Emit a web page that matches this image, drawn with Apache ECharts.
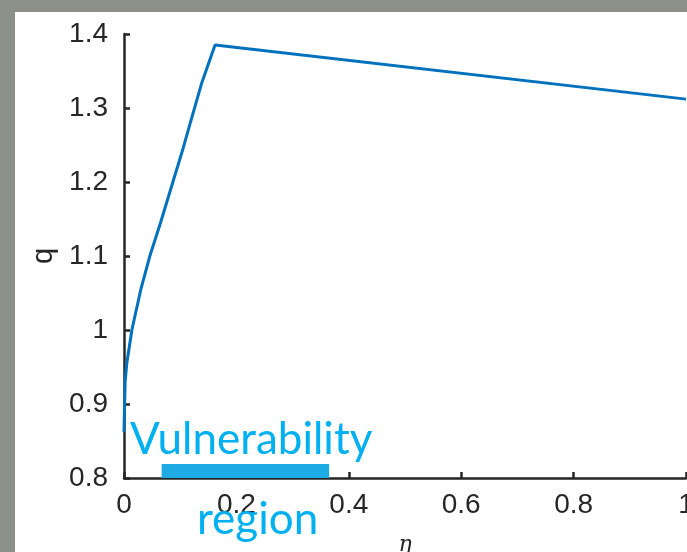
<!DOCTYPE html>
<html>
<head>
<meta charset="utf-8">
<script src="https://cdn.jsdelivr.net/npm/echarts@6/dist/echarts.min.js"></script>
<style>html,body{margin:0;padding:0;background:#8b9189;}#c{width:687px;height:552px;}</style>
</head>
<body>
<div id="c"></div>
<script>
// data
const eta = [0, 0.002, 0.005, 0.014, 0.03, 0.046, 0.065, 0.087, 0.105, 0.121, 0.138, 0.162, 1.0];
const qVals = [0.862, 0.93, 0.955, 1.0, 1.055, 1.1, 1.145, 1.2, 1.245, 1.288, 1.333, 1.385, 1.312];
const vulnRange = [0.067, 0.365];
const vulnQ = [0.798, 0.819];
const xTicks = [0, 0.2, 0.4, 0.6, 0.8, 1];
const yTicks = [0.8, 0.9, 1, 1.1, 1.2, 1.3, 1.4];
const labels = { y: 'q', x: 'η', vuln1: 'Vulnerability', vuln2: 'region' };

const chart = echarts.init(document.getElementById('c'), null, { renderer: 'canvas' });
const axisColor = '#262626';
const option = {
  backgroundColor: '#8b9189',
  animation: false,
  grid: { left: 124, right: 1, top: 34, bottom: 74, containLabel: false, outerBoundsMode: 'none' },
  xAxis: {
    type: 'value', min: xTicks[0], max: xTicks[xTicks.length - 1], interval: 0.2,
    name: labels.x, nameLocation: 'middle', nameGap: 56,
    nameTextStyle: { fontFamily: 'DejaVu Serif', fontStyle: 'italic', fontSize: 22, color: axisColor },
    axisLine: { show: true, lineStyle: { color: axisColor, width: 2.5 } },
    axisTick: { show: true, inside: true, length: 6, lineStyle: { color: axisColor, width: 2.5 } },
    axisLabel: { fontFamily: 'Liberation Sans', fontSize: 28, color: axisColor, margin: 13,
      showMaxLabel: true, showMinLabel: true,
      formatter: v => String(+v.toFixed(1)) },
    splitLine: { show: false }
  },
  yAxis: {
    type: 'value', min: yTicks[0], max: yTicks[yTicks.length - 1], interval: 0.1,
    name: labels.y, nameLocation: 'middle', nameGap: 66, nameRotate: 90,
    nameTextStyle: { fontFamily: 'Liberation Sans', fontSize: 29, color: axisColor },
    axisLine: { show: true, lineStyle: { color: axisColor, width: 2.5 } },
    axisTick: { show: true, inside: true, length: 6, lineStyle: { color: axisColor, width: 2.5 } },
    axisLabel: { fontFamily: 'Liberation Sans', fontSize: 28, color: axisColor, margin: 16,
      formatter: v => String(+v.toFixed(1)) },
    splitLine: { show: false }
  },
  graphic: [
    { type: 'rect', z: -100, silent: true, shape: { x: 15, y: 12, width: 700, height: 560 }, style: { fill: '#ffffff' } },
    { type: 'text', z: 100, left: 130, top: 418, style: { text: labels.vuln1, font: '44px Lato', fill: '#00b0f0' } },
    { type: 'text', z: 100, left: 197, top: 498, style: { text: labels.vuln2, font: '44px Lato', fill: '#00b0f0' } }
  ],
  series: [{
    type: 'line',
    data: eta.map((e, i) => [e, qVals[i]]),
    showSymbol: false, symbol: 'none',
    lineStyle: { color: '#0072bd', width: 3 },
    clip: true,
    markArea: {
      silent: true,
      itemStyle: { color: '#1eaae2', opacity: 1 },
      data: [[{ coord: [vulnRange[0], vulnQ[0]] }, { coord: [vulnRange[1], vulnQ[1]] }]]
    }
  }]
};
chart.setOption(option);
</script>
</body>
</html>
